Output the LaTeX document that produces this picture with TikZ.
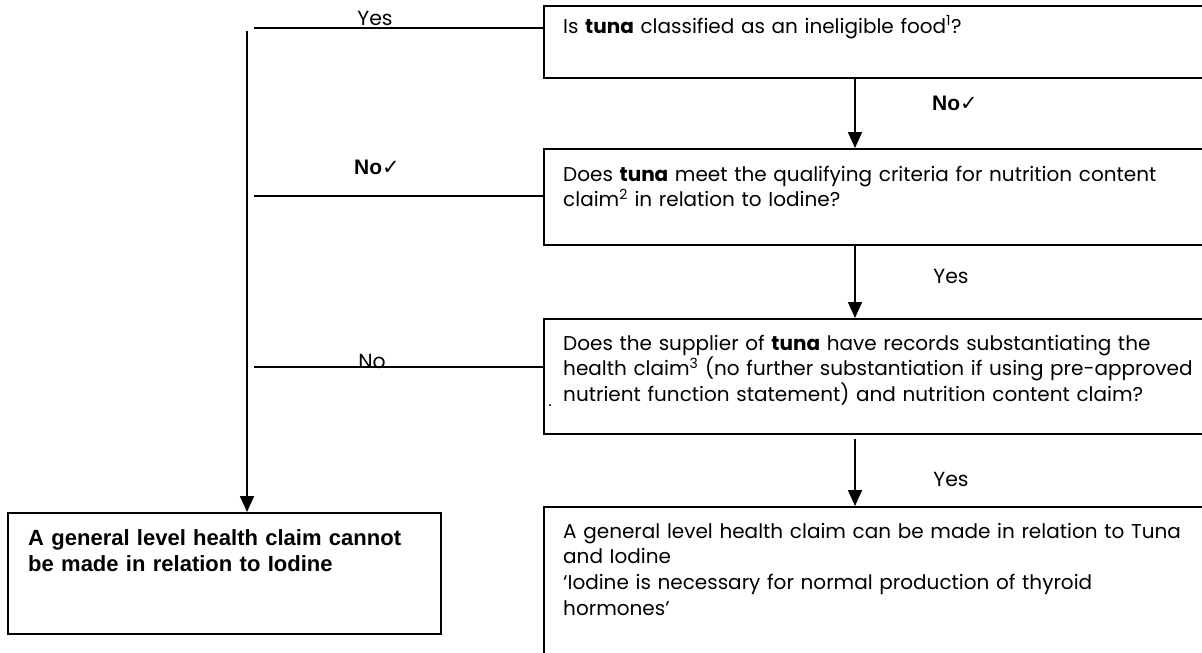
\documentclass[tikz,border=0pt]{standalone}
\usepackage{fontspec}
\setmainfont{Poppins}
\newfontfamily\arialf{Liberation Sans}
\newfontfamily\dejavu{DejaVu Sans}
\usetikzlibrary{arrows.meta}
\begin{document}
\begin{tikzpicture}[x=1pt,y=-1pt,
  box/.style={draw, line width=1.8pt, rectangle, inner sep=0pt, anchor=north west},
  link/.style={line width=1.8pt},
  arr/.style={line width=1.8pt, -{Triangle[length=16pt,width=14pt]}},
  txt/.style={inner sep=0pt, anchor=base west, align=left, text width=720pt,
              font=\fontsize{20}{25.8}\selectfont},
  ltxt/.style={inner sep=0pt, anchor=base west, align=left, text width=420pt,
              font=\fontsize{22}{26}\selectfont\arialf\bfseries},
  lbl/.style={inner sep=0pt, anchor=base, font=\fontsize{20.4}{24}\selectfont},
  blbl/.style={inner sep=0pt, anchor=base, font=\fontsize{21}{24}\selectfont\arialf\bfseries}]
\fill[white] (0,0) rectangle (1202,653);
\useasboundingbox (0,0) rectangle (1202,653);
\clip (0,0) rectangle (1202,653);

% boxes
\node[box, minimum width=672pt, minimum height=72pt]  (b1) at (543,5)   {};
\node[box, minimum width=672pt, minimum height=96pt]  (b2) at (543,148) {};
\node[box, minimum width=672pt, minimum height=115pt] (b3) at (543,318) {};
\node[box, minimum width=672pt, minimum height=170pt] (b4) at (543,506) {};
\node[box, minimum width=433pt, minimum height=121pt] (bl) at (7,512)   {};

% box texts
\node[txt] (t1) at (563,33) {Is \textbf{tuna} classified as an ineligible food\textsuperscript{1}?};
\node[txt] (t2) at (563,181) {Does \textbf{tuna} meet the qualifying criteria for nutrition content\\
claim\textsuperscript{2} in relation to Iodine?};
\node[txt] (t3) at (563,350) {Does the supplier of \textbf{tuna} have records substantiating the\\
health claim\textsuperscript{3} (no further substantiation if using pre-approved\\
nutrient function statement) and nutrition content claim?};
\node[txt] (t4) at (563,538) {A general level health claim can be made in relation to Tuna\\
and Iodine\\
‘Iodine is necessary for normal production of thyroid\\
hormones’};
\node[ltxt] (tl) at (28,545) {A general level health claim cannot\\
be made in relation to Iodine};
\node[inner sep=0pt, anchor=base, font=\fontsize{16}{16}\selectfont] (dot) at (550,406) {.};

% connectors on the right
\coordinate (ax) at (855,0);
\draw[arr] (b1.south -| ax) -- (b2.north -| ax);
\draw[arr] (b2.south -| ax) -- (b3.north -| ax);
\draw[arr, shorten <=4pt] (b3.south -| ax) -- (b4.north -| ax);

% connectors on the left
\coordinate (vt) at (247,31);
\draw[arr] (vt) -- (vt |- bl.north);
\coordinate (h1) at (254,28);
\coordinate (h2) at (254,196);
\coordinate (h3) at (254,367);
\draw[link] (h1) -- (h1 -| b1.west);
\draw[link] (h2) -- (h2 -| b2.west);
\draw[link] (h3) -- (h3 -| b3.west);

% labels
\node[lbl] (yes1) at (375,25) {Yes};
\node[blbl] (no1) at (377,174) {No{\dejavu\mdseries\fontsize{21}{21}\selectfont ✓}};
\node[lbl] (no2) at (372,368) {No};
\node[blbl] (no3) at (955,110) {No{\dejavu\mdseries\fontsize{21}{21}\selectfont ✓}};
\node[lbl] (yes2) at (951,283) {Yes};
\node[lbl] (yes3) at (951,486) {Yes};
\end{tikzpicture}
\end{document}
